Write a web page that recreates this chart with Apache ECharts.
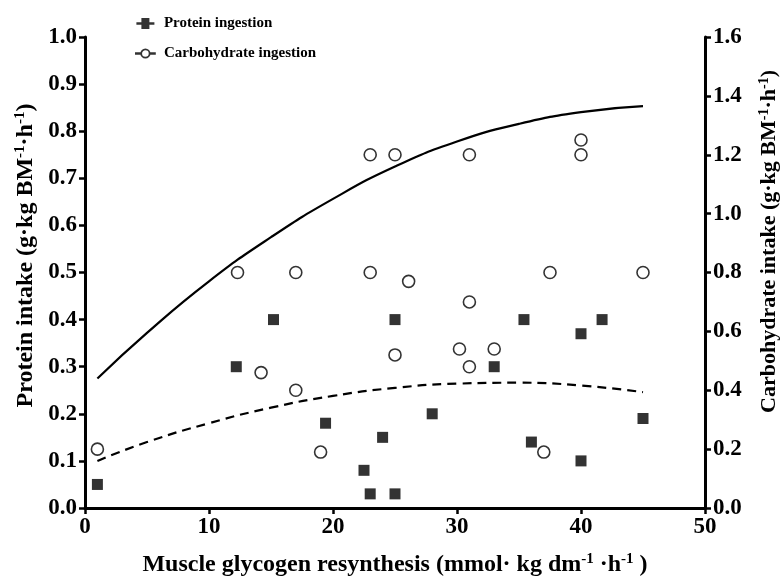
<!DOCTYPE html>
<html>
<head>
<meta charset="utf-8">
<script src="https://cdn.jsdelivr.net/npm/echarts@6/dist/echarts.min.js"></script>
<style>
html,body{margin:0;padding:0;background:#fff;}
#chart{width:783px;height:583px;}
</style>
</head>
<body>
<div id="chart"></div>
<script>
// ---- data ----
const proteinX = [1, 12.2, 15.2, 19.4, 22.5, 23, 24, 25, 25, 28, 33, 35.4, 36, 40, 41.7, 40, 45];
const proteinY = [0.05, 0.30, 0.40, 0.18, 0.08, 0.03, 0.15, 0.40, 0.03, 0.20, 0.30, 0.40, 0.14, 0.37, 0.40, 0.10, 0.19];

const carbX = [1, 12.3, 14.2, 17, 17, 19, 23, 25, 31, 40, 40, 23, 26.1, 37.5, 45, 25, 31, 30.2, 33, 31, 37];
const carbY = [0.20, 0.80, 0.46, 0.80, 0.40, 0.19, 1.20, 1.20, 1.20, 1.25, 1.20, 0.80, 0.77, 0.80, 0.80, 0.52, 0.70, 0.54, 0.54, 0.48, 0.19];

const fitX = [1, 5, 10, 15, 20, 25, 30, 35, 40, 45];
const carbFitY = [0.44, 0.595, 0.77, 0.92, 1.05, 1.16, 1.245, 1.305, 1.345, 1.365];
const proteinFitY = [0.10, 0.14, 0.18, 0.213, 0.238, 0.255, 0.264, 0.266, 0.26, 0.246];

const xTicks = [0, 10, 20, 30, 40, 50];
const leftTicks = [0, 0.1, 0.2, 0.3, 0.4, 0.5, 0.6, 0.7, 0.8, 0.9, 1.0];
const rightTicks = [0, 0.2, 0.4, 0.6, 0.8, 1.0, 1.2, 1.4, 1.6];

const seriesNames = ['Protein ingestion', 'Carbohydrate ingestion'];
// --------------------------------------

const zip = (xs, ys) => xs.map((x, i) => [x, ys[i]]);
const FONT = '"Liberation Serif", "Times New Roman", serif';

function nameStyle(size, extra) {
  return Object.assign({
    color: '#000', fontFamily: FONT, fontWeight: 'bold', fontSize: size,
    rich: {
      sup: { fontFamily: FONT, fontWeight: 'bold', fontSize: Math.round(size * 0.62), color: '#000', verticalAlign: 'top', padding: [0, 0, Math.round(size * 0.45), 0] }
    }
  }, extra || {});
}

const axisCommon = {
  axisLine: { show: true, onZero: false, lineStyle: { color: '#000', width: 3 } },
  axisTick: { show: true, inside: false, length: 6, lineStyle: { color: '#000', width: 2.5 } },
  splitLine: { show: false },
  axisLabel: { color: '#000', fontFamily: FONT, fontWeight: 'bold', fontSize: 23, margin: 8 }
};

const chart = echarts.init(document.getElementById('chart'), null, { renderer: 'canvas' });
chart.setOption({
  backgroundColor: '#fff',
  animation: false,
  grid: { left: 85, right: 78, top: 37, bottom: 75, containLabel: false, outerBoundsMode: 'none' },
  legend: {
    orient: 'vertical',
    left: 135,
    top: 16,
    padding: 0,
    itemGap: 15,
    itemWidth: 19,
    itemHeight: 11,
    textStyle: { color: '#000', fontFamily: FONT, fontWeight: 'bold', fontSize: 15, padding: [0, 0, 0, 4] },
    data: [
      { name: seriesNames[0], icon: 'path://M0,4.2 H5 V0 H13 V4.2 H18 V6.8 H13 V11 H5 V6.8 H0 Z' },
      { name: seriesNames[1], icon: 'path://M0,5.1 H5 V5.9 H0 Z M5,5.5 A4,4 0 1,1 13,5.5 A4,4 0 1,1 5,5.5 Z M13,5.1 H18 V5.9 H13 Z',
        itemStyle: { color: '#fff', borderColor: '#000', borderWidth: 1.8 } }
    ]
  },
  xAxis: Object.assign({}, axisCommon, {
    type: 'value', min: xTicks[0], max: xTicks[xTicks.length - 1], interval: 10,
    name: 'Muscle glycogen resynthesis (mmol· kg dm{sup|-1} ·h{sup|-1} )',
    nameLocation: 'middle', nameGap: 44,
    nameTextStyle: nameStyle(24)
  }),
  yAxis: [
    Object.assign({}, axisCommon, {
      type: 'value', position: 'left', min: leftTicks[0], max: leftTicks[leftTicks.length - 1], interval: 0.1,
      name: 'Protein intake (g·kg BM{sup|-1}·h{sup|-1})',
      nameLocation: 'middle', nameGap: 44, nameRotate: 90,
      nameTextStyle: nameStyle(24, { padding: [0, 0, 0, 34] }),
      axisLabel: Object.assign({}, axisCommon.axisLabel, { formatter: v => v.toFixed(1) })
    }),
    Object.assign({}, axisCommon, {
      type: 'value', position: 'right', min: rightTicks[0], max: rightTicks[rightTicks.length - 1], interval: 0.2,
      name: 'Carbohydrate intake (g·kg BM{sup|-1}·h{sup|-1})',
      nameLocation: 'middle', nameGap: 52, nameRotate: 90,
      nameTextStyle: nameStyle(22, { padding: [0, 0, 0, 62] }),
      axisLabel: Object.assign({}, axisCommon.axisLabel, { formatter: v => v.toFixed(1) })
    })
  ],
  series: [
    {
      name: seriesNames[0], type: 'scatter', yAxisIndex: 0,
      symbol: 'rect', symbolSize: 11,
      itemStyle: { color: '#000' },
      data: zip(proteinX, proteinY), z: 5
    },
    {
      name: seriesNames[1], type: 'scatter', yAxisIndex: 1,
      symbol: 'circle', symbolSize: 12,
      itemStyle: { color: '#fff', borderColor: '#000', borderWidth: 1.6 },
      data: zip(carbX, carbY), z: 5
    },
    {
      name: 'carbFit', type: 'line', yAxisIndex: 1, smooth: true, showSymbol: false, symbol: 'none',
      lineStyle: { color: '#000', width: 2.2, type: 'solid' },
      data: zip(fitX, carbFitY), z: 3, silent: true
    },
    {
      name: 'proteinFit', type: 'line', yAxisIndex: 0, smooth: true, showSymbol: false, symbol: 'none',
      lineStyle: { color: '#000', width: 2.2, type: [9, 6] },
      data: zip(fitX, proteinFitY), z: 3, silent: true
    }
  ]
});
</script>
</body>
</html>
